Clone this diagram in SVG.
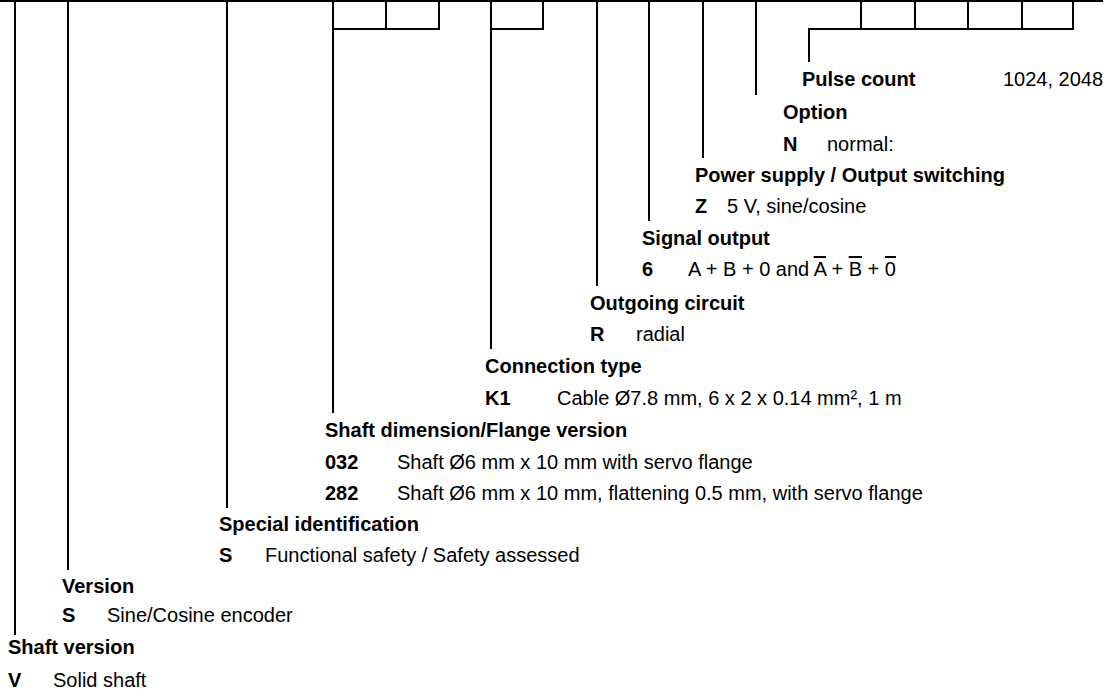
<svg xmlns="http://www.w3.org/2000/svg" width="1120" height="700" viewBox="0 0 1120 700">
<style>
.ln{stroke:#000;stroke-width:2;fill:none}
text{font-family:"Liberation Sans",Arial,Helvetica,sans-serif;font-size:20px;fill:#000}
.b{font-weight:bold}
.ov{text-decoration:overline}
</style>
<rect width="1120" height="700" fill="#fff"/>
<g id="connectors">
<line class="ln" x1="0" y1="1" x2="1103" y2="1"/>
<line class="ln" x1="15" y1="0" x2="15" y2="635"/>
<line class="ln" x1="68" y1="0" x2="68" y2="570"/>
<line class="ln" x1="227" y1="0" x2="227" y2="508"/>
<line class="ln" x1="333" y1="0" x2="333" y2="413"/>
<polyline class="ln" points="333,29 439,29 439,0"/>
<line class="ln" x1="386" y1="0" x2="386" y2="29"/>
<line class="ln" x1="491" y1="0" x2="491" y2="349"/>
<polyline class="ln" points="491,29 543,29 543,0"/>
<line class="ln" x1="597" y1="0" x2="597" y2="286"/>
<line class="ln" x1="649" y1="0" x2="649" y2="221"/>
<line class="ln" x1="703" y1="0" x2="703" y2="158"/>
<line class="ln" x1="756" y1="0" x2="756" y2="95"/>
<polyline class="ln" points="809,62 809,29 1073,29 1073,0"/>
<line class="ln" x1="861" y1="0" x2="861" y2="29"/>
<line class="ln" x1="915" y1="0" x2="915" y2="29"/>
<line class="ln" x1="968" y1="0" x2="968" y2="29"/>
<line class="ln" x1="1022" y1="0" x2="1022" y2="29"/>
</g>
<g id="pulse-count">
<text class="b" x="802" y="86">Pulse count</text>
<text x="1003" y="86">1024, 2048</text>
</g>
<g id="option">
<text class="b" x="783" y="119">Option</text>
<text class="b" x="783" y="151">N</text>
<text x="827" y="151">normal:</text>
</g>
<g id="power-supply">
<text class="b" x="695" y="182">Power supply / Output switching</text>
<text class="b" x="695" y="213">Z</text>
<text x="727" y="213">5 V, sine/cosine</text>
</g>
<g id="signal-output">
<text class="b" x="642" y="245">Signal output</text>
<text class="b" x="642" y="276">6</text>
<text x="688" y="276">A + B + 0 and <tspan class="ov">A</tspan> + <tspan class="ov">B</tspan> + <tspan class="ov">0</tspan></text>
</g>
<g id="outgoing-circuit">
<text class="b" x="590" y="310">Outgoing circuit</text>
<text class="b" x="590" y="341">R</text>
<text x="636" y="341">radial</text>
</g>
<g id="connection-type">
<text class="b" x="485" y="373">Connection type</text>
<text class="b" x="485" y="405">K1</text>
<text x="557" y="405">Cable Ø7.8 mm, 6 x 2 x 0.14 mm², 1 m</text>
</g>
<g id="shaft-dimension">
<text class="b" x="325" y="437">Shaft dimension/Flange version</text>
<text class="b" x="325" y="469">032</text>
<text x="397" y="469">Shaft Ø6 mm x 10 mm with servo flange</text>
<text class="b" x="325" y="500">282</text>
<text x="397" y="500">Shaft Ø6 mm x 10 mm, flattening 0.5 mm, with servo flange</text>
</g>
<g id="special-identification">
<text class="b" x="219" y="531">Special identification</text>
<text class="b" x="219" y="562">S</text>
<text x="265" y="562">Functional safety / Safety assessed</text>
</g>
<g id="version">
<text class="b" x="62" y="593">Version</text>
<text class="b" x="62" y="622">S</text>
<text x="107" y="622">Sine/Cosine encoder</text>
</g>
<g id="shaft-version">
<text class="b" x="8" y="654">Shaft version</text>
<text class="b" x="8" y="687">V</text>
<text x="53" y="687">Solid shaft</text>
</g>
</svg>
